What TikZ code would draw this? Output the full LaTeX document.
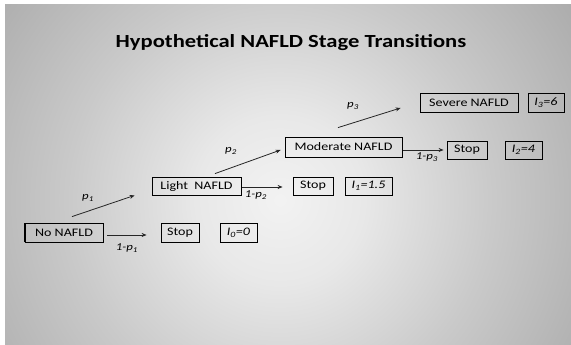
\documentclass[tikz,border=0pt]{standalone}
\usepackage{fontspec}
\setmainfont[FakeStretch=1.22]{Carlito}
\newfontfamily\titlefont[FakeStretch=1.22]{Carlito}
\usetikzlibrary{arrows.meta}
\definecolor{cA}{gray}{0.95}
\definecolor{cB}{gray}{0.91}
\definecolor{cC}{gray}{0.79}
\definecolor{cD}{gray}{0.64}
\definecolor{cE}{gray}{0.58}
\definecolor{cF}{gray}{0.55}
\pgfdeclareradialshading{bgshade}{\pgfpointorigin}{color(0bp)=(cA); color(5bp)=(cB); color(12.6bp)=(cC); color(23.6bp)=(cD); color(28.6bp)=(cE); color(50bp)=(cF)}
\tikzset{
  box/.style={draw=black, line width=0.8pt, inner sep=0pt, minimum height=18pt, font=\fontsize{11.5}{13}\selectfont},
  arr/.style={draw=black!85, line width=0.8pt, -{Stealth[length=5pt,width=4pt]}},
  lab/.style={font=\fontsize{10.5}{12}\selectfont\itshape, inner sep=0pt}
}
\begin{document}
\begin{tikzpicture}[x=1pt,y=1pt]
\useasboundingbox (0,0) rectangle (571,345);
\fill[white] (0,0) rectangle (571,345);
\begin{scope}
\clip (5,0) rectangle (571,340);
\shade[shading=bgshade] (280,145) circle (420);
\end{scope}
\node[font=\fontsize{18.5}{21}\selectfont\titlefont\bfseries] (title) at (291,302) {Hypothetical NAFLD Stage Transitions};

\node[box, minimum width=78pt, minimum height=19pt] (none) at (64,112.5) {No NAFLD};
\draw[line width=1.8pt] (none.south west) -- (none.north west);
\node[box, minimum width=38pt, minimum height=19pt] (stop0) at (180,112.5) {Stop};
\node[box, minimum width=37pt, minimum height=19pt] (i0) at (238.5,112.5) {\itshape I\textsubscript{0}=0};
\node[box, minimum width=89pt] (light) at (196.5,159) {Light\ \ NAFLD};
\node[box, minimum width=40pt] (stop1) at (313,159) {Stop};
\node[box, minimum width=47pt] (i1) at (368.5,159) {\itshape I\textsubscript{1}=1.5};
\node[box, minimum width=117pt, minimum height=20pt] (mod) at (343.5,198) {Moderate NAFLD};
\node[box, minimum width=40pt] (stop2) at (467,195) {Stop};
\node[box, minimum width=37pt] (i2) at (523.5,195) {\itshape I\textsubscript{2}=4};
\node[box, minimum width=98pt, minimum height=19pt] (severe) at (469,242.5) {Severe NAFLD};
\node[box, minimum width=36pt, minimum height=19pt] (i3) at (546,242.5) {\itshape I\textsubscript{3}=6};

\draw[arr, shorten <=4pt, shorten >=14pt] ([yshift=-2.5pt]none.east) -- ([yshift=-2.5pt]stop0.west);
\draw[arr, shorten <=1pt, shorten >=10pt] ([yshift=-1pt]light.east) -- ([yshift=-1pt]stop1.west);
\draw[arr, shorten <=1pt, shorten >=3pt] ([yshift=-3pt]mod.east) -- (stop2.west);

\draw[arr] ([shift={(8,6)}]none.north) -- ([xshift=-17pt]light.south west);
\draw[arr] ([shift={(18.5,3)}]light.north) -- ([shift={(-4,-3)}]mod.west);
\draw[arr] ([shift={(-5.5,9)}]mod.north) -- ([shift={(-19,-5.5)}]severe.west);

\node[lab] (lp1) at (88,147) {p\textsubscript{1}};
\node[lab] (lp2) at (231,194) {p\textsubscript{2}};
\node[lab] (lp3) at (353,239) {p\textsubscript{3}};
\node[lab] (lq1) at (127,97) {1-p\textsubscript{1}};
\node[lab] (lq2) at (256,150) {1-p\textsubscript{2}};
\node[lab] (lq3) at (427,188) {1-p\textsubscript{3}};
\end{tikzpicture}
\end{document}
